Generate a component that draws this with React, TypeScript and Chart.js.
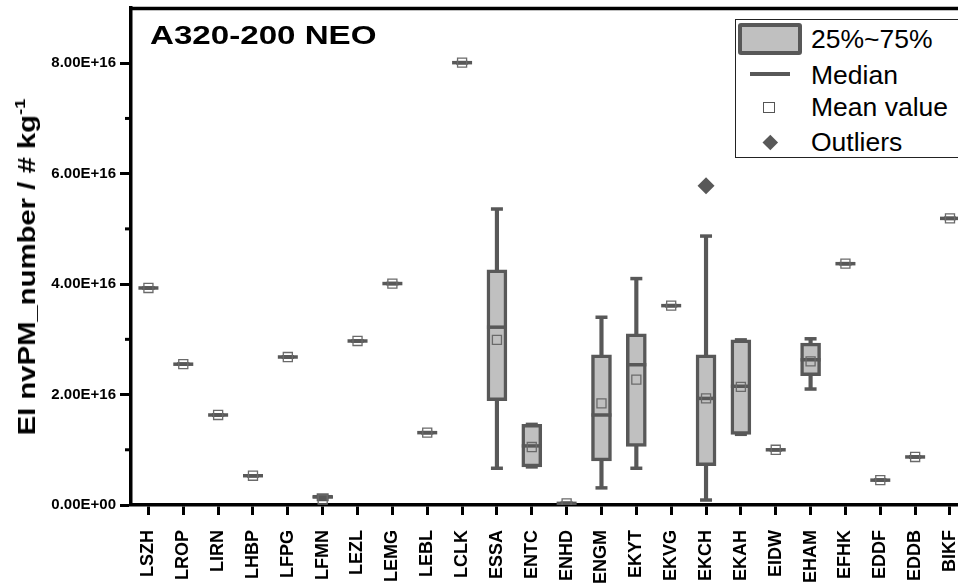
import React, { useEffect, useRef } from 'react';
import { Chart, registerables } from 'chart.js';

Chart.register(...registerables);

const FONT = "'Liberation Sans', Arial, Helvetica, sans-serif";

// stations (x categories)
const categories = ['LSZH', 'LROP', 'LIRN', 'LHBP', 'LFPG', 'LFMN', 'LEZL', 'LEMG', 'LEBL', 'LCLK', 'ESSA', 'ENTC', 'ENHD', 'ENGM', 'EKYT', 'EKVG', 'EKCH', 'EKAH', 'EIDW', 'EHAM', 'EFHK', 'EDDF', 'EDDB', 'BIKF'];

// values in units of 1E+16 # kg-1
const whiskerMin = [3.93, 2.55, 1.63, 0.53, 2.68, 0.10, 2.97, 4.01, 1.31, 8.01, 0.665, 0.69, 0.03, 0.31, 0.665, 3.61, 0.09, 1.28, 1.00, 2.10, 4.37, 0.45, 0.87, 5.19];
const q1 = [3.93, 2.55, 1.63, 0.53, 2.68, 0.12, 2.97, 4.01, 1.31, 8.01, 1.89, 0.69, 0.03, 0.80, 1.06, 3.61, 0.71, 1.28, 1.00, 2.34, 4.37, 0.45, 0.87, 5.19];
const median = [3.93, 2.55, 1.63, 0.53, 2.68, 0.15, 2.97, 4.01, 1.31, 8.01, 3.22, 1.07, 0.03, 1.63, 2.54, 3.61, 1.93, 2.15, 1.00, 2.63, 4.37, 0.45, 0.87, 5.19];
const q3 = [3.93, 2.55, 1.63, 0.53, 2.68, 0.17, 2.97, 4.01, 1.31, 8.01, 4.26, 1.46, 0.03, 2.72, 3.10, 3.61, 2.72, 2.99, 1.00, 2.93, 4.37, 0.45, 0.87, 5.19];
const whiskerMax = [3.93, 2.55, 1.63, 0.53, 2.68, 0.18, 2.97, 4.01, 1.31, 8.01, 5.36, 1.46, 0.03, 3.40, 4.10, 3.61, 4.87, 2.99, 1.00, 3.01, 4.37, 0.45, 0.87, 5.19];
const meanValue = [3.93, 2.55, 1.63, 0.53, 2.68, 0.10, 2.97, 4.01, 1.31, 8.01, 2.99, 1.05, 0.03, 1.84, 2.27, 3.61, 1.93, 2.14, 1.00, 2.60, 4.37, 0.45, 0.87, 5.19];

const outlierStations = ['EKCH'];
const outlierValues = [5.78];

const yTickValues = [0, 1, 2, 3, 4, 5, 6, 7, 8, 9];
const yTickLabels = ['0.00E+00', '', '2.00E+16', '', '4.00E+16', '', '6.00E+16', '', '8.00E+16', ''];
const yMinorTicks = [1, 3, 5, 7];

const BOX_FILL = '#c0c0c0';
const DARK = '#585858';

const framePlugin = {
  id: 'frame',
  afterDraw(chart: any) {
    const { ctx, chartArea, scales } = chart;
    const y = scales.y;
    ctx.save();
    ctx.strokeStyle = '#000';
    ctx.lineWidth = 3;
    ctx.lineCap = 'butt';
    yMinorTicks.forEach((v) => {
      const py = y.getPixelForValue(v);
      ctx.beginPath();
      ctx.moveTo(chartArea.left - 6, py);
      ctx.lineTo(chartArea.left, py);
      ctx.stroke();
    });
    ctx.lineWidth = 3.5;
    ctx.beginPath();
    ctx.moveTo(chartArea.left - 1.5, chartArea.top + 0.5);
    ctx.lineTo(chartArea.right, chartArea.top + 0.5);
    ctx.stroke();
    ctx.restore();
  },
};

export default function App() {
  const ref = useRef<HTMLCanvasElement | null>(null);

  useEffect(() => {
    if (!ref.current) return;
    const idx = categories.map((_, i) => i);
    const chart = new Chart(ref.current, {
      type: 'bar',
      data: {
        datasets: [
          {
            label: 'whisker',
            data: idx.map((i) => ({ x: i, y: [whiskerMin[i], whiskerMax[i]] })),
            backgroundColor: DARK,
            borderWidth: 0,
            barThickness: 3.5,
            grouped: false,
            order: 6,
          } as any,
          {
            type: 'scatter',
            label: 'caps',
            data: [
              ...idx.map((i) => ({ x: i, y: whiskerMin[i] })),
              ...idx.map((i) => ({ x: i, y: whiskerMax[i] })),
            ],
            pointStyle: 'line',
            radius: 6,
            borderWidth: 3.5,
            borderColor: DARK,
            order: 5,
          } as any,
          {
            label: '25%~75%',
            data: idx.map((i) => ({ x: i, y: [q1[i], q3[i]] })),
            backgroundColor: BOX_FILL,
            borderColor: DARK,
            borderWidth: 3.5,
            borderSkipped: false,
            barThickness: 20,
            grouped: false,
            order: 4,
          } as any,
          {
            type: 'scatter',
            label: 'Median',
            data: idx.map((i) => ({ x: i, y: median[i] })),
            pointStyle: 'line',
            radius: 10,
            borderWidth: 3.5,
            borderColor: DARK,
            order: 3,
          } as any,
          {
            type: 'scatter',
            label: 'Mean value',
            data: idx.map((i) => ({ x: i, y: meanValue[i] })),
            pointStyle: 'rect',
            radius: 6.4,
            borderWidth: 1.3,
            borderColor: '#6a6a6a',
            backgroundColor: 'rgba(0,0,0,0)',
            order: 2,
          } as any,
          {
            type: 'scatter',
            label: 'Outliers',
            data: outlierStations.map((s, k) => ({ x: categories.indexOf(s), y: outlierValues[k] })),
            pointStyle: 'rectRot',
            radius: 8.5,
            borderWidth: 0,
            backgroundColor: DARK,
            order: 1,
          } as any,
        ],
      },
      options: {
        animation: false,
        responsive: false,
        events: [],
        layout: { autoPadding: false, padding: { top: 8, left: 0, right: 0, bottom: 0 } },
        plugins: {
          legend: { display: false },
          tooltip: { enabled: false },
          title: { display: false },
        },
        scales: {
          x: {
            type: 'linear',
            min: -0.5,
            max: 23.23,
            offset: false,
            afterBuildTicks: (s: any) => {
              s.ticks = categories.map((_, i) => ({ value: i }));
            },
            afterFit: (s: any) => {
              s.height = 81;
              s.paddingLeft = 0;
              s.paddingRight = 0;
            },
            ticks: {
              autoSkip: false,
              minRotation: 90,
              maxRotation: 90,
              padding: 15,
              color: '#000',
              font: { family: FONT, size: 18, weight: 'bold' },
              callback: (v: any) => categories[Math.round(Number(v))] ?? '',
            },
            grid: {
              display: true,
              offset: false,
              drawOnChartArea: false,
              drawTicks: true,
              tickLength: 10,
              tickWidth: 3,
              tickColor: '#000',
            },
            border: { display: true, color: '#000', width: 3.5 },
          } as any,
          y: {
            type: 'linear',
            min: 0,
            max: 9,
            afterBuildTicks: (s: any) => {
              s.ticks = yTickValues.map((v) => ({ value: v }));
            },
            afterFit: (s: any) => {
              s.width = 131;
              s.paddingTop = 0;
              s.paddingBottom = 0;
            },
            ticks: {
              padding: 4,
              color: '#000',
              font: { family: FONT, size: 15, weight: 'bold' },
              callback: (_v: any, i: number) => yTickLabels[i],
            },
            grid: {
              display: true,
              drawOnChartArea: false,
              drawTicks: true,
              tickLength: 11,
              tickWidth: 3,
              tickColor: (c: any) => (yTickLabels[c.index] ? '#000' : 'rgba(0,0,0,0)'),
            },
            border: { display: true, color: '#000', width: 3.5 },
          } as any,
        },
      },
      plugins: [framePlugin],
    });
    return () => chart.destroy();
  }, []);

  const legendText: React.CSSProperties = {
    position: 'absolute',
    left: 75,
    height: 30,
    lineHeight: '30px',
    fontFamily: FONT,
    fontSize: 26.5,
    color: '#000',
    whiteSpace: 'nowrap',
  };

  return (
    <div style={{ position: 'fixed', left: 0, top: 0, width: 958, height: 586, overflow: 'hidden', background: '#fff' }}>
      <canvas ref={ref} width={958} height={586} style={{ position: 'absolute', left: 0, top: 0, width: 958, height: 586 }} />
      <div
        style={{
          position: 'absolute',
          left: 150,
          top: 20,
          height: 30,
          lineHeight: '30px',
          fontFamily: FONT,
          fontWeight: 'bold',
          fontSize: 26.5,
          color: '#000',
          whiteSpace: 'nowrap',
          transform: 'scaleX(1.25)',
          transformOrigin: 'left center',
        }}
      >
        A320-200 NEO
      </div>
      <div
        style={{
          position: 'absolute',
          left: 27 - 230,
          top: 267 - 17,
          width: 460,
          height: 34,
          lineHeight: '34px',
          textAlign: 'center',
          fontFamily: FONT,
          fontWeight: 'bold',
          fontSize: 24,
          color: '#000',
          whiteSpace: 'nowrap',
          transform: 'rotate(-90deg) scaleX(1.22)',
          transformOrigin: 'center center',
        }}
      >
        EI nvPM_number / # kg<span style={{ fontSize: 15, position: 'relative', top: -10 }}>-1</span>
      </div>
      <div
        style={{
          position: 'absolute',
          left: 735,
          top: 19,
          width: 280,
          height: 139,
          border: '1px solid #222',
          background: '#fff',
          boxSizing: 'border-box',
        }}
      >
        <div style={{ position: 'absolute', left: 2, top: 3, width: 64, height: 32, border: `4px solid ${DARK}`, background: BOX_FILL, borderRadius: 3, boxSizing: 'border-box' }} />
        <div style={{ position: 'absolute', left: 14, top: 52, width: 40, height: 3.5, background: DARK }} />
        <div style={{ position: 'absolute', left: 27, top: 82, width: 12, height: 11, border: '1.5px solid #555', background: '#fff', boxSizing: 'border-box' }} />
        <div style={{ position: 'absolute', left: 34.5 - 5.3, top: 122.5 - 5.3, width: 10.6, height: 10.6, background: DARK, transform: 'rotate(45deg)' }} />
        <div style={{ ...legendText, top: 19 - 15 }}>25%~75%</div>
        <div style={{ ...legendText, top: 55 - 15 }}>Median</div>
        <div style={{ ...legendText, top: 87 - 15 }}>Mean value</div>
        <div style={{ ...legendText, top: 121.5 - 15 }}>Outliers</div>
      </div>
    </div>
  );
}
